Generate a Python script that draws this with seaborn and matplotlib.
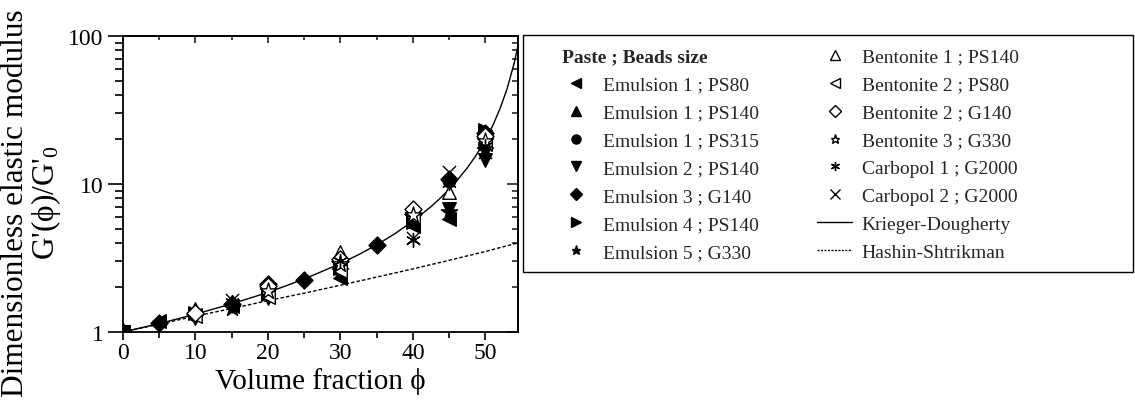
import numpy as np
import matplotlib
matplotlib.use("Agg")
import matplotlib.pyplot as plt
import seaborn as sns
from matplotlib.lines import Line2D
from matplotlib.patches import Rectangle
from matplotlib.ticker import MultipleLocator, LogLocator, NullFormatter, FixedLocator

# ---- data ----
labels = ["Emulsion 1 ; PS80", "Emulsion 1 ; PS140", "Emulsion 1 ; PS315",
          "Emulsion 2 ; PS140", "Emulsion 3 ; G140", "Emulsion 4 ; PS140",
          "Emulsion 5 ; G330", "Bentonite 1 ; PS140", "Bentonite 2 ; PS80",
          "Bentonite 2 ; G140", "Bentonite 3 ; G330", "Carbopol 1 ; G2000",
          "Carbopol 2 ; G2000"]

emu1_ps80_x = [0, 5, 10, 15, 20, 30, 40, 45, 50]
emu1_ps80_y = [1.0, 1.18, 1.30, 1.50, 1.75, 2.30, 5.2, 5.8, 20.0]
emu1_ps140_x = [0, 10, 20, 30, 40, 50]
emu1_ps140_y = [1.0, 1.42, 1.90, 2.80, 5.6, 21.0]
emu1_ps315_x = [0, 10, 20, 30, 40, 45, 50]
emu1_ps315_y = [1.0, 1.30, 1.85, 2.90, 5.8, 10.5, 19.0]
emu2_ps140_x = [0, 10, 20, 30, 45, 50]
emu2_ps140_y = [1.0, 1.25, 1.70, 2.50, 6.8, 14.5]
emu3_g140_x = [0, 5, 10, 15, 20, 25, 30, 35, 40, 45, 50]
emu3_g140_y = [1.0, 1.15, 1.32, 1.55, 2.10, 2.25, 3.0, 3.85, 6.3, 10.8, 22.0]
emu4_ps140_x = [0, 10, 20, 30, 40, 50]
emu4_ps140_y = [1.0, 1.35, 1.80, 2.70, 5.5, 23.0]
emu5_g330_x = [0, 15, 30, 45, 50]
emu5_g330_y = [1.0, 1.45, 2.60, 6.5, 17.0]
ben1_ps140_x = [10, 20, 30, 40, 45, 50]
ben1_ps140_y = [1.38, 2.00, 3.45, 6.5, 8.8, 20.0]
ben2_ps80_x = [10, 20, 30, 40, 50]
ben2_ps80_y = [1.28, 1.72, 2.60, 6.0, 18.5]
ben2_g140_x = [10, 20, 30, 40, 50]
ben2_g140_y = [1.35, 2.05, 3.10, 6.8, 21.0]
ben3_g330_x = [20, 30, 40, 50]
ben3_g330_y = [1.90, 2.90, 6.2, 19.5]
carb1_x = [15, 30, 40, 45, 50]
carb1_y = [1.60, 3.00, 4.2, 10.2, 18.0]
carb2_x = [15, 40, 45, 50]
carb2_y = [1.65, 4.3, 12.0, 16.5]

series_x = [emu1_ps80_x, emu1_ps140_x, emu1_ps315_x, emu2_ps140_x, emu3_g140_x,
            emu4_ps140_x, emu5_g330_x, ben1_ps140_x, ben2_ps80_x, ben2_g140_x,
            ben3_g330_x, carb1_x, carb2_x]
series_y = [emu1_ps80_y, emu1_ps140_y, emu1_ps315_y, emu2_ps140_y, emu3_g140_y,
            emu4_ps140_y, emu5_g330_y, ben1_ps140_y, ben2_ps80_y, ben2_g140_y,
            ben3_g330_y, carb1_y, carb2_y]

# model curves
kd_x = [0, 5, 10, 15, 20, 25, 30, 32.5, 35, 37.5, 40, 42.5, 43.75, 45, 46.25,
        47.5, 48.75, 50, 51, 52, 53, 54, 54.5, 54.8]
kd_y = [1.0, 1.14, 1.32, 1.55, 1.85, 2.28, 2.90, 3.33, 3.88, 4.61, 5.61, 7.03,
        8.0, 9.21, 10.8, 12.85, 15.7, 19.85, 24.7, 32.1, 44.1, 66.4, 86.0, 103.0]
hs_x = [0, 5, 10, 15, 20, 25, 30, 35, 40, 45, 50, 54.5]
hs_y = [1.0, 1.13, 1.28, 1.44, 1.63, 1.83, 2.07, 2.35, 2.67, 3.05, 3.50, 4.0]

# ---- style per series ----
markers = ['<', '^', 'o', 'v', 'D', '>', '*', '^', '<', 'D', '*', (6, 2, 0), 'x']
is_open = [False] * 7 + [True] * 4 + [False, False]
sizes = [95, 95, 80, 95, 75, 95, 150, 95, 95, 75, 150, 100, 90]

sns.set_theme(style="ticks")
plt.rcParams['font.family'] = ['Liberation Serif', 'DejaVu Serif']
plt.rcParams['mathtext.fontset'] = 'custom'
plt.rcParams['mathtext.rm'] = 'Liberation Serif'
plt.rcParams['mathtext.it'] = 'Liberation Serif:italic'

fig = plt.figure(figsize=(11.35, 4.06), dpi=100)
ax = fig.add_axes([123 / 1135, 1 - 333 / 406, 395 / 1135, 296 / 406])

sns.lineplot(x=kd_x, y=kd_y, ax=ax, color='black', lw=1.0, zorder=2)
sns.lineplot(x=hs_x, y=hs_y, ax=ax, color='black', lw=1.0,
             linestyle=(0, (2.5, 1.5)), zorder=2)

for xs, ys, m, op, s in zip(series_x, series_y, markers, is_open, sizes):
    sns.scatterplot(x=xs, y=ys, ax=ax, marker=m, s=s, color='black',
                    edgecolor='black', linewidth=1.0, zorder=3)
    if op:
        ax.collections[-1].set_facecolor('white')

ax.set_yscale('log')
ax.set_xlim(0, 54.5)
ax.set_ylim(1, 100)
ax.xaxis.set_major_locator(MultipleLocator(10))
ax.xaxis.set_minor_locator(MultipleLocator(5))
ax.yaxis.set_major_locator(FixedLocator([1, 10, 100]))
ax.yaxis.set_minor_locator(LogLocator(base=10, subs=np.arange(2, 10)))
ax.yaxis.set_minor_formatter(NullFormatter())
ax.set_yticklabels(['1', '10', '100'])

for sp in ax.spines.values():
    sp.set_linewidth(1.3)
    sp.set_color('black')

ax.tick_params(axis='both', which='both', direction='out', colors='black',
               labelsize=17, width=1.2, top=False, right=False)
ax.tick_params(axis='y', which='major', length=11, pad=3)
ax.tick_params(axis='y', which='minor', length=6)
ax.tick_params(axis='x', which='major', length=6, pad=1)
ax.tick_params(axis='x', which='minor', length=4)

secx = ax.secondary_xaxis('top')
secx.xaxis.set_major_locator(MultipleLocator(10))
secx.xaxis.set_minor_locator(MultipleLocator(5))
secx.tick_params(which='both', direction='in', labeltop=False, width=1.2)
secx.tick_params(which='major', length=5)
secx.tick_params(which='minor', length=3)
secx.spines['top'].set_linewidth(1.3)

secy = ax.secondary_yaxis('right')
secy.yaxis.set_major_locator(FixedLocator([1, 10, 100]))
secy.yaxis.set_minor_locator(LogLocator(base=10, subs=np.arange(2, 10)))
secy.tick_params(which='both', direction='in', labelright=False, width=1.2)
secy.tick_params(which='major', length=8)
secy.tick_params(which='minor', length=4)
secy.spines['right'].set_linewidth(1.3)

ax.set_xlabel("Volume fraction \u03d5", fontsize=21, labelpad=3, color='black')
ax.set_ylabel("Dimensionless elastic modulus\nG'(\u03d5)/G'$_0$", fontsize=22.5,
              linespacing=0.95, color='black')
ax.yaxis.set_label_coords(-0.152, 0.44)

# ---- legend ----
handles = [Line2D([], [], linestyle='none', marker=None)]
names = [" "]
for m, op, lab in zip(markers, is_open, labels):
    handles.append(Line2D([], [], linestyle='none', marker=m, markersize=6.5,
                          color='black', markerfacecolor='white' if op else 'black',
                          markeredgecolor='black', markeredgewidth=1.0))
    names.append(lab)
handles.append(Line2D([], [], color='black', lw=1.0))
names.append("Krieger-Dougherty")
handles.append(Line2D([], [], color='black', lw=1.0, linestyle=(0, (1.5, 1))))
names.append("Hashin-Shtrikman")

fig.legend(handles, names, ncol=2, loc='upper left',
           bbox_to_anchor=(558 / 1135, 1 - 49 / 406), frameon=False,
           fontsize=14, handlelength=1.8, handletextpad=0.5, columnspacing=3.0,
           labelspacing=0.53, borderpad=0, borderaxespad=0)
fig.text(562 / 1135, 1 - 58 / 406, "Paste ; Beads size", fontsize=14,
         fontweight='bold', va='center', ha='left')
fig.patches.append(Rectangle((523 / 1135, 1 - 273 / 406), 610 / 1135, 237 / 406,
                             transform=fig.transFigure, fill=False,
                             edgecolor='black', lw=1.0))

fig.savefig("out.png", dpi=100)
